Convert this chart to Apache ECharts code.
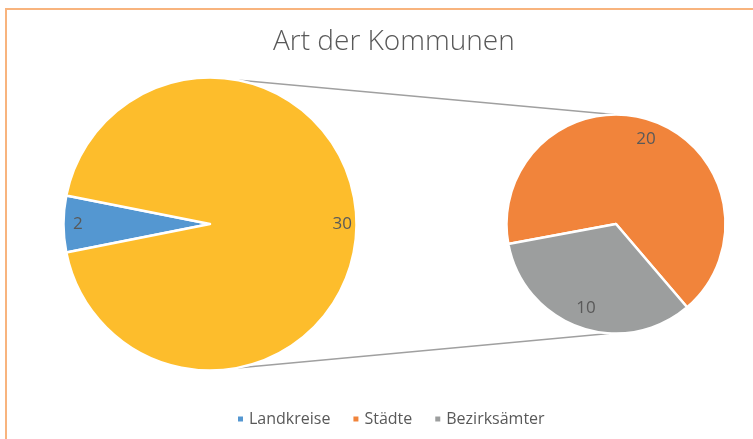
<!DOCTYPE html>
<html>
<head>
<meta charset="utf-8">
<script src="https://cdn.jsdelivr.net/npm/echarts@6/dist/echarts.min.js"></script>
<style>
  html, body { margin: 0; padding: 0; background: #fff; }
  #chart { width: 753px; height: 439px; }
</style>
</head>
<body>
<div id="chart"></div>
<script>
// Hauptkreis: Landkreise + Rest (der Rest wird im zweiten Kreis aufgeteilt)
const mainNames = ['Landkreise', 'Sonstige'];
const mainValues = [2, 30];
const subNames = ['Städte', 'Bezirksämter'];
const subValues = [20, 10];
const legendNames = ['Landkreise', 'Städte', 'Bezirksämter'];

const colors = {
  'Landkreise': '#5497d1',
  'Sonstige': '#fdbd2c',
  'Städte': '#f1843b',
  'Bezirksämter': '#9c9e9e'
};

// Geometrie
const mainC = [210, 224], mainR = 146.5;
const subC = [616, 224], subR = 109.5;
const textColor = '#595959';
const font = '"Open Sans", "Liberation Sans", sans-serif';

const chart = echarts.init(document.getElementById('chart'));

const mainData = mainNames.map((n, i) => ({ name: n, value: mainValues[i], itemStyle: { color: colors[n] } }));
const subData = subNames.map((n, i) => ({ name: n, value: subValues[i], itemStyle: { color: colors[n] } }));

// Winkel so, dass Landkreise links zentriert ist
const mainStart = 180 + (mainValues[0] / (mainValues[0] + mainValues[1])) * 180;
const subStart = 190.5;

// Verbindungslinien
const a = 79.4 * Math.PI / 180;
const topMain = [mainC[0] + mainR * Math.cos(a), mainC[1] - mainR * Math.sin(a)];
const botMain = [mainC[0] + mainR * Math.cos(a), mainC[1] + mainR * Math.sin(a)];
const topSub = [subC[0] - 2, subC[1] - subR];
const botSub = [subC[0] - 7, subC[1] + subR];

const labelStyle = { show: true, position: 'inside', color: textColor, fontSize: 17, fontFamily: font, formatter: '{c}' };

chart.setOption({
  animation: false,
  title: {
    text: 'Art der Kommunen',
    left: 268,
    top: 23,
    textStyle: { color: textColor, fontSize: 28, fontWeight: 300, fontFamily: font }
  },
  legend: {
    data: legendNames,
    bottom: 7,
    left: 231,
    icon: 'rect',
    itemWidth: 7,
    itemHeight: 7,
    itemGap: 21,
    textStyle: { color: textColor, fontSize: 16, fontFamily: font }
  },
  graphic: [
    { type: 'rect', shape: { x: 6, y: 9, width: 800, height: 500 }, style: { fill: 'none', stroke: '#f8b47e', lineWidth: 2 }, z: 0 },
    { type: 'line', shape: { x1: topMain[0], y1: topMain[1], x2: topSub[0], y2: topSub[1] }, style: { stroke: '#a0a0a0', lineWidth: 1.5 }, z: 0 },
    { type: 'line', shape: { x1: botMain[0], y1: botMain[1], x2: botSub[0], y2: botSub[1] }, style: { stroke: '#a0a0a0', lineWidth: 1.5 }, z: 0 }
  ],
  series: [
    {
      type: 'pie', center: mainC, radius: mainR, startAngle: mainStart, clockwise: true,
      label: { show: false }, labelLine: { show: false },
      itemStyle: { borderColor: '#fff', borderWidth: 2.5 },
      data: mainData
    },
    {
      type: 'pie', center: subC, radius: subR, startAngle: subStart, clockwise: true,
      label: { show: false }, labelLine: { show: false },
      itemStyle: { borderColor: '#fff', borderWidth: 2.5 },
      data: subData
    },
    // transparente Ringe nur für die Beschriftung am Rand
    {
      type: 'pie', center: mainC, radius: [112, mainR], startAngle: mainStart, clockwise: true, silent: true,
      label: labelStyle, labelLine: { show: false },
      itemStyle: { color: 'rgba(0,0,0,0)', borderWidth: 0 },
      data: mainNames.map((n, i) => ({ name: n + ' ', value: mainValues[i], itemStyle: { color: 'rgba(0,0,0,0)' } }))
    },
    {
      type: 'pie', center: subC, radius: [64, subR], startAngle: subStart, clockwise: true, silent: true,
      label: labelStyle, labelLine: { show: false },
      itemStyle: { color: 'rgba(0,0,0,0)', borderWidth: 0 },
      data: subNames.map((n, i) => ({ name: n + ' ', value: subValues[i], itemStyle: { color: 'rgba(0,0,0,0)' } }))
    }
  ]
});
</script>
</body>
</html>
